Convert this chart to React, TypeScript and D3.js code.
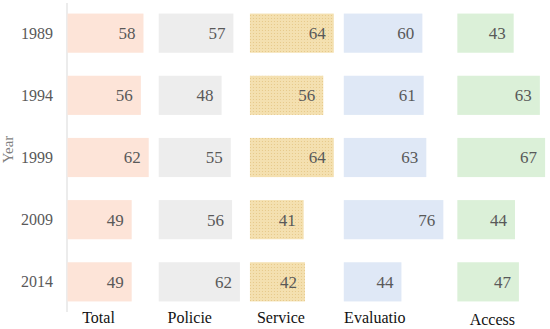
import React from 'react';
import * as d3 from 'd3';

const years = ['1989', '1994', '1999', '2009', '2014'];
const categories = ['Total', 'Policie', 'Service', 'Evaluatio', 'Access'];

const total = [58, 56, 62, 49, 49];
const policie = [57, 48, 55, 56, 62];
const service = [64, 56, 64, 41, 42];
const evaluatio = [60, 61, 63, 76, 44];
const access = [43, 63, 67, 44, 47];

const series = [total, policie, service, evaluatio, access];
const fills = ['#fde4d8', '#ededed', 'url(#dots)', '#dfe8f6', '#dbf0d8'];

const width = 550;
const height = 329;
const serif = { fontFamily: "'Liberation Serif', 'Times New Roman', serif" };

export default function App() {
  const axisX = 67.5;
  const gap = 10;

  const y = d3
    .scaleBand()
    .domain(years)
    .range([3, 312])
    .paddingInner(0.37)
    .paddingOuter(0.17);

  const x = d3.scaleLinear().domain([0, 100]).range([0, 131]);

  // each panel starts where the previous panel's longest bar ends, plus a gap
  const starts: number[] = [];
  series.reduce((acc, vals, i) => {
    starts.push(acc);
    return acc + x(d3.max(vals) as number) + gap + (i === 3 ? 4 : 0);
  }, axisX);

  return (
    <svg
      width={width}
      height={height}
      style={{ position: 'absolute', left: 0, top: 0, background: '#fff', ...serif }}
    >
      <defs>
        <pattern id="dots" width={3} height={3} patternUnits="userSpaceOnUse">
          <rect width={3} height={3} fill="#f4e0b0" />
          <rect width={1} height={1} fill="#e6c98a" />
        </pattern>
      </defs>

      {/* Year label */}
      <text
        transform={`translate(13,${(y.range()[0] + y.range()[1]) / 2 - 8}) rotate(-90)`}
        textAnchor="middle"
        fontSize={15}
        fill="#7f7f7f"
        style={serif}
      >
        Year
      </text>

      {/* y axis */}
      <line x1={axisX - 0.5} x2={axisX - 0.5} y1={y.range()[0]} y2={y.range()[1]} stroke="#d9d9d9" />
      {years.map((yr) => (
        <text
          key={yr}
          x={53}
          y={(y(yr) as number) + y.bandwidth() / 2}
          dy="0.35em"
          textAnchor="end"
          fontSize={16}
          fill="#595959"
          style={serif}
        >
          {yr}
        </text>
      ))}

      {/* panels */}
      {series.map((vals, ci) => (
        <g key={categories[ci]} transform={`translate(${starts[ci]},0)`}>
          {vals.map((v, ri) => (
            <g key={years[ri]}>
              <rect
                x={0}
                y={y(years[ri])}
                width={x(v)}
                height={y.bandwidth()}
                fill={fills[ci]}
              />
              <text
                x={x(v) - 8}
                y={(y(years[ri]) as number) + y.bandwidth() / 2}
                dy="0.35em"
                textAnchor="end"
                fontSize={17}
                fill="#595959"
                style={serif}
              >
                {v}
              </text>
            </g>
          ))}
          <text
            x={ci === 4 ? 35 : 31}
            y={ci === 4 ? 325 : 323}
            textAnchor="middle"
            fontSize={16}
            fill="#111"
            style={serif}
          >
            {categories[ci]}
          </text>
        </g>
      ))}
    </svg>
  );
}
